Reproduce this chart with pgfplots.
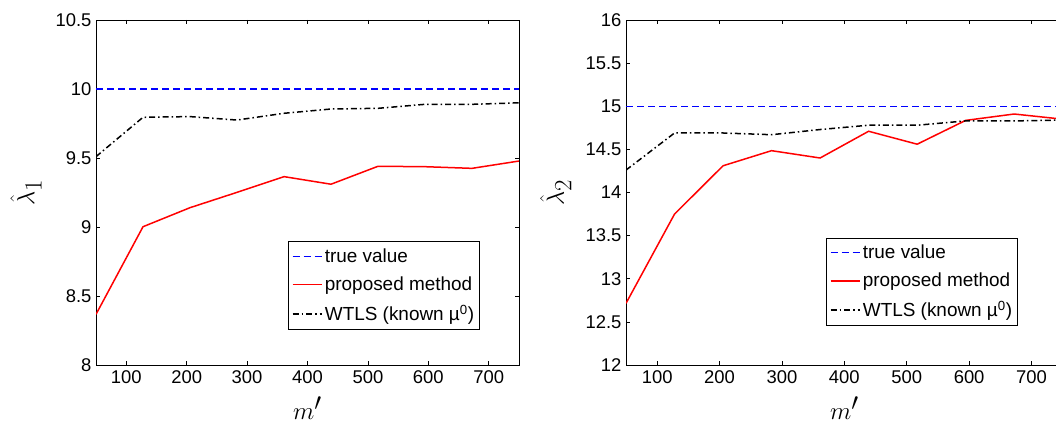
\documentclass[border=0pt]{standalone}
\usepackage{fontspec}
\setmainfont{Liberation Sans}
\usepackage{pgfplots}
\pgfplotsset{compat=1.18}

\pgfplotsset{
  matlab/.style={
    scale only axis,
    height=345bp,
    xmin=50, xmax=750,
    xtick={100,200,...,700},
    tick align=inside,
    tick pos=both,
    major tick length=4bp,
    axis line style={line width=0.9bp},
    tick style={line width=0.7bp, black},
    /pgf/number format/assume math mode=true,
    tick label style={font=\fontsize{18.5}{20}\selectfont},
    xticklabel style={yshift=-2bp},
    yticklabel style={xshift=-1bp},
    xlabel={$m'$},
    xlabel style={font=\fontsize{38}{40}\selectfont, at={(axis description cs:0.5,-0.157)}, anchor=base},
    legend cell align=left,
    legend style={draw=black, line width=0.9bp, fill=white,
      font=\fontsize{19}{21}\selectfont, outer sep=0pt,
      anchor=north west, inner xsep=3bp, inner ysep=4bp, row sep=7bp,
      nodes={inner xsep=2.5bp, inner ysep=3bp}},
    legend image code/.code={\draw[#1] (0bp,0bp) -- (29bp,0bp);},
  },
  truev/.style={blue, line width=1.5bp, dash pattern=on 7bp off 4bp},
  propm/.style={red, line width=1.5bp},
  wtls/.style={black, line width=1.5bp, dash pattern=on 6bp off 3bp on 1.5bp off 3bp},
}

\begin{document}
\begin{tikzpicture}
\begin{axis}[matlab,
    at={(96bp,61bp)}, anchor=south west,
    width=423bp,
    ymin=8, ymax=10.5,
    ytick={8,8.5,...,10.5},
    yticklabels={8,8.5,9,9.5,10,10.5},
    ylabel={$\hat{\lambda}_1$},
    ylabel style={font=\fontsize{34}{36}\selectfont, at={(axis description cs:-0.12,0.5)}, anchor=south},
    legend style={at={(axis description cs:0.456,0.357)}},
]
\addplot[truev] coordinates {(50,10) (750,10)};
\addlegendentry{true value}
\addplot[propm] coordinates {
(50,8.367) (127.8,9.002) (205.6,9.14) (283.3,9.251) (361.1,9.365)
(438.9,9.31) (516.7,9.44) (594.4,9.437) (672.2,9.425) (750,9.478)};
\addlegendentry{proposed method}
\addplot[wtls] coordinates {
(50,9.51) (127.8,9.795) (205.6,9.80) (283.3,9.775) (361.1,9.824)
(438.9,9.855) (516.7,9.86) (594.4,9.889) (672.2,9.889) (750,9.90)};
\addlegendentry{WTLS (known µ\textsuperscript{0})}
\end{axis}

\begin{axis}[matlab,
    at={(626bp,61bp)}, anchor=south west,
    width=436.7bp,
    ymin=12, ymax=16,
    ytick={12,12.5,...,16},
    yticklabels={12,12.5,13,13.5,14,14.5,15,15.5,16},
    ylabel={$\hat{\lambda}_2$},
    ylabel style={font=\fontsize{34}{36}\selectfont, at={(axis description cs:-0.117,0.5)}, anchor=south},
    legend style={at={(axis description cs:0.46,0.368)}},
]
\addplot[truev] coordinates {(50,15) (750,15)};
\addlegendentry{true value}
\addplot[propm] coordinates {
(50,12.715) (127.8,13.75) (205.6,14.31) (283.3,14.485) (361.1,14.40)
(438.9,14.71) (516.7,14.56) (594.4,14.836) (672.2,14.91) (750,14.85)};
\addlegendentry{proposed method}
\addplot[wtls] coordinates {
(50,14.26) (127.8,14.69) (205.6,14.69) (283.3,14.67) (361.1,14.73)
(438.9,14.78) (516.7,14.78) (594.4,14.83) (672.2,14.83) (750,14.84)};
\addlegendentry{WTLS (known µ\textsuperscript{0})}
\end{axis}
\pgfresetboundingbox
\path[use as bounding box] (0,0) rectangle (1056bp,426bp);
\end{tikzpicture}
\end{document}
